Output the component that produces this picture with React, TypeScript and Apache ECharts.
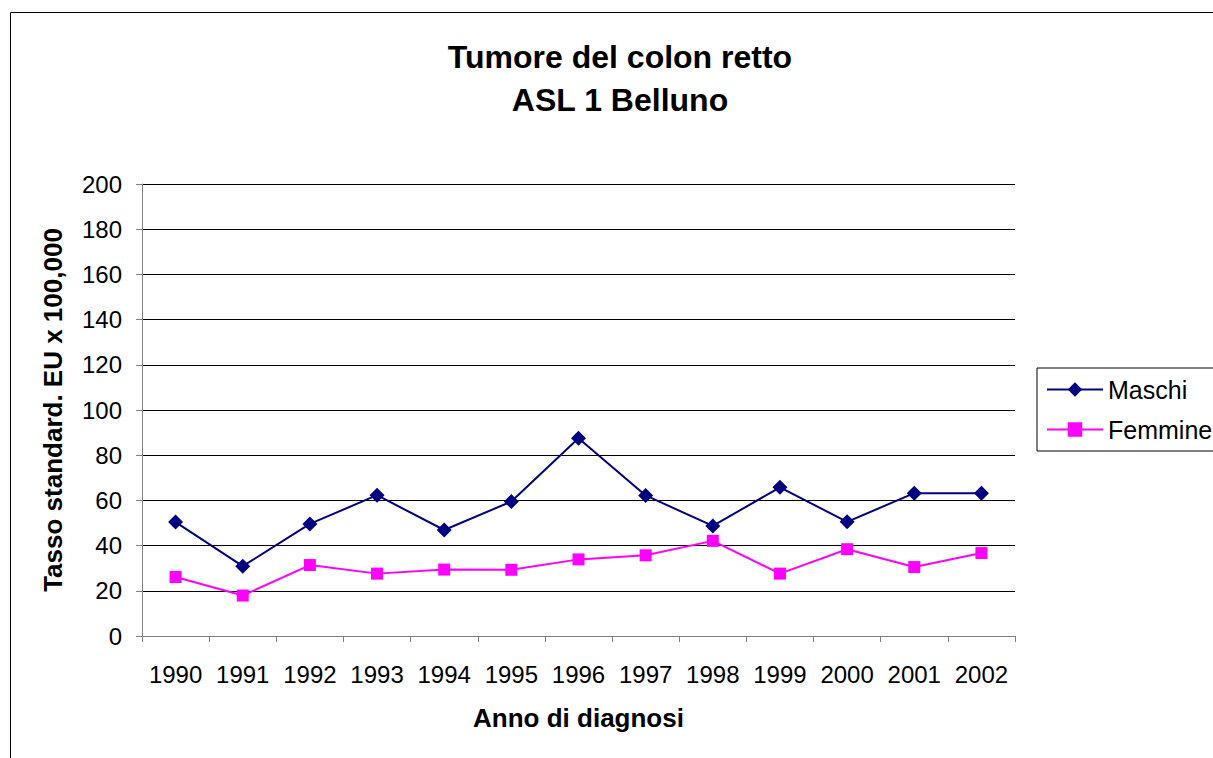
import React, { useEffect, useRef } from "react";
import * as echarts from "echarts";

const years = ["1990", "1991", "1992", "1993", "1994", "1995", "1996", "1997", "1998", "1999", "2000", "2001", "2002"];
const maschi = [50.4, 30.9, 49.6, 62.3, 46.9, 59.5, 87.5, 62.2, 48.7, 65.8, 50.5, 63.2, 63.2];
const femmine = [26.1, 17.9, 31.4, 27.6, 29.4, 29.3, 33.9, 35.7, 42.1, 27.6, 38.4, 30.5, 36.7];
const titleText = "Tumore del colon retto\nASL 1 Belluno";
const yName = "Tasso standard. EU x 100,000";
const xName = "Anno di diagnosi";

export default function App() {
  const ref = useRef<HTMLDivElement>(null);
  useEffect(() => {
    const chart = echarts.init(ref.current!, null, { renderer: "svg" });
    const font = "'Liberation Sans', Arial, sans-serif";
    chart.setOption({
      animation: false,
      backgroundColor: "#ffffff",
      textStyle: { fontFamily: font },
      title: {
        text: titleText,
        left: 615,
        top: 30,
        textAlign: "center",
        textStyle: { fontSize: 32, fontWeight: "bold", color: "#000", lineHeight: 43, fontFamily: font },
      },
      graphic: [
        {
          type: "rect",
          shape: { x: 10.5, y: 12.5, width: 1240, height: 800 },
          style: { fill: "none", stroke: "#000", lineWidth: 1 },
          silent: true,
        },
      ],
      legend: {
        orient: "vertical",
        left: 1037,
        top: 368,
        itemWidth: 56,
        itemHeight: 18,
        itemGap: 15,
        padding: [9, 8, 9, 9],
        borderColor: "#000",
        borderWidth: 1,
        textStyle: { fontSize: 25, color: "#000", fontFamily: font },
        data: ["Maschi", "Femmine"],
      },
      grid: { left: 142, right: 198, top: 184, bottom: 122 },
      xAxis: {
        type: "category",
        data: years,
        boundaryGap: true,
        name: xName,
        nameLocation: "middle",
        nameGap: 69,
        nameTextStyle: { fontSize: 26, fontWeight: "bold", color: "#000", fontFamily: font },
        axisLine: { lineStyle: { color: "#808080", width: 1 } },
        axisTick: { show: true, interval: 0, length: 6, lineStyle: { color: "#808080" } },
        axisLabel: { interval: 0, fontSize: 24, color: "#000", margin: 26, fontFamily: font },
      },
      yAxis: {
        type: "value",
        min: 0,
        max: 200,
        interval: 20,
        name: yName,
        nameLocation: "middle",
        nameGap: 76,
        nameTextStyle: { fontSize: 26, fontWeight: "bold", color: "#000", fontFamily: font },
        axisLine: { show: true, lineStyle: { color: "#808080", width: 1 } },
        axisTick: { show: true, length: 6, lineStyle: { color: "#808080" } },
        axisLabel: { fontSize: 24, color: "#000", margin: 20, fontFamily: font },
        splitLine: { show: true, lineStyle: { color: "#000", width: 1 } },
      },
      series: [
        {
          name: "Maschi",
          type: "line",
          data: maschi,
          symbol: "diamond",
          symbolSize: 15,
          color: "#000080",
          lineStyle: { color: "#000080", width: 2 },
          itemStyle: { color: "#000080" },
        },
        {
          name: "Femmine",
          type: "line",
          data: femmine,
          symbol: "rect",
          symbolSize: 12,
          color: "#FF00FF",
          lineStyle: { color: "#FF00FF", width: 2 },
          itemStyle: { color: "#FF00FF" },
        },
      ],
    });
    return () => chart.dispose();
  }, []);
  return (
    <div
      ref={ref}
      style={{ position: "fixed", left: 0, top: 0, width: 1213, height: 758 }}
    />
  );
}
